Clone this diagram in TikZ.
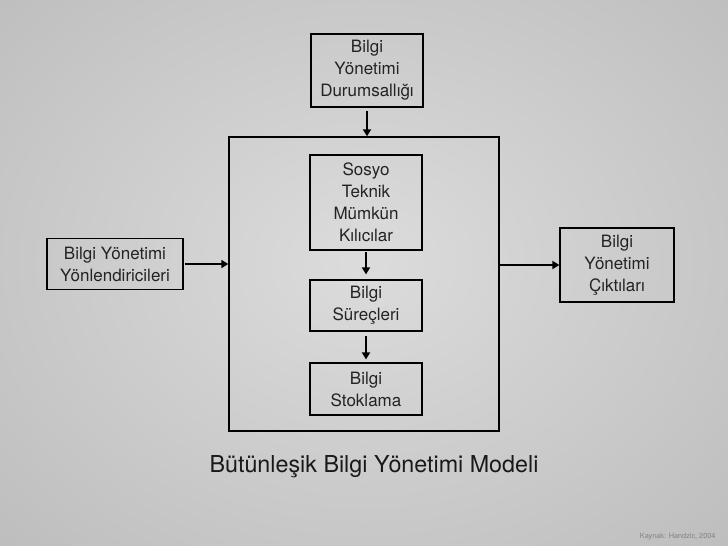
\documentclass[tikz,border=0pt]{standalone}
\usepackage{fontspec}
\setmainfont{TeX Gyre Heros}
\usetikzlibrary{arrows.meta}
\definecolor{bgin}{RGB}{220,220,220}
\definecolor{bgout}{RGB}{163,163,163}
\definecolor{boxtxt}{RGB}{35,35,35}
\definecolor{srctxt}{RGB}{130,130,130}
\tikzset{
  boxnode/.style={draw=black, line width=1.2pt, text=boxtxt, align=center, inner sep=0pt,
    font=\fontsize{17}{22}\selectfont},
  framenode/.style={draw=black, line width=1.4pt, inner sep=0pt},
  flowarrow/.style={line width=2pt, -{Triangle[length=7pt,width=8pt]}},
}
\begin{document}
\begin{tikzpicture}[x=1pt,y=-1pt]
\useasboundingbox (0,0) rectangle (728,546);
\begin{scope}
\clip (0,0) rectangle (728,546);
\shade[inner color=bgin, outer color=bgout] (364-960,262-760) rectangle (364+960,262+760);
\end{scope}

\node[framenode, minimum width=270pt, minimum height=294pt] (frame) at (364,284) {};
\node[boxnode, minimum width=112pt, minimum height=73pt] (dur) at (367,70.5) {Bilgi\\Yönetimi\\Durumsallığı};
\node[boxnode, minimum width=112pt, minimum height=95pt] (sosyo) at (366,202.5) {Sosyo\\Teknik\\Mümkün\\Kılıcılar};
\node[boxnode, minimum width=112pt, minimum height=51pt] (surec) at (366,305.5) {Bilgi\\Süreçleri};
\node[boxnode, minimum width=112pt, minimum height=52pt] (stok) at (366,389) {Bilgi\\Stoklama};
\node[boxnode, minimum width=136pt, minimum height=51pt] (yon) at (115,264) {Bilgi Yönetimi\\Yönlendiricileri};
\node[boxnode, minimum width=114pt, minimum height=74pt] (cikti) at (617,265) {Bilgi\\Yönetimi\\Çıktıları};

\draw[flowarrow, shorten <=3pt] (dur.south) -- (dur.south |- frame.north);
\draw[flowarrow, shorten <=1.5pt, shorten >=5pt] (sosyo.south) -- (surec.north);
\draw[flowarrow, shorten <=4pt, shorten >=3pt] (surec.south) -- (stok.north);
\draw[flowarrow, shorten <=1pt] (yon.east) -- (yon.east -| frame.west);
\draw[flowarrow] (frame.east |- cikti.west) -- (cikti.west);

\node[text=black!90, font=\fontsize{23.3}{27}\selectfont] (title) at (374,467) {Bütünleşik Bilgi Yönetimi Modeli};
\node[text=srctxt, anchor=east, font=\fontsize{7.3}{9}\selectfont] (src) at (719,537) {Kaynak: Handzic, 2004};
\end{tikzpicture}
\end{document}
